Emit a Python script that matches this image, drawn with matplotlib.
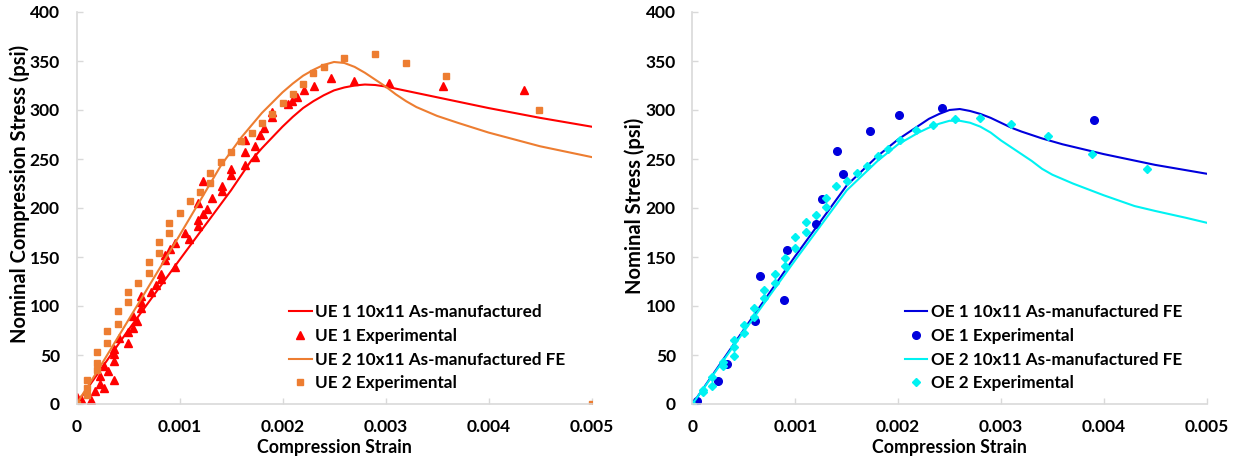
import numpy as np
import matplotlib
matplotlib.use("Agg")
import matplotlib.pyplot as plt
from matplotlib.ticker import FuncFormatter

plt.rcParams['font.family'] = ['Lato', 'DejaVu Sans']
plt.rcParams['font.weight'] = 'bold'

# ---- UE (left) ----
ue1_fe_strain = [0, 0.0002, 0.0005, 0.001, 0.0015, 0.0017, 0.0018, 0.0019, 0.002,
                 0.0021, 0.0022, 0.0023, 0.0024, 0.0025, 0.0026, 0.0027, 0.0028,
                 0.0029, 0.003, 0.0035, 0.004, 0.0045, 0.005]
ue1_fe_stress = [0, 30, 75, 147, 218, 249, 261, 272, 283, 293, 302, 309, 315, 320,
                 323, 325, 326, 325.5, 324, 313, 302, 292, 283]

ue2_fe_strain = [0, 0.0002, 0.0005, 0.001, 0.0014, 0.0016, 0.0018, 0.002, 0.0021,
                 0.0022, 0.0023, 0.0024, 0.0025, 0.0026, 0.0027, 0.0028, 0.0029,
                 0.003, 0.0031, 0.0032, 0.0033, 0.0035, 0.0037, 0.004, 0.0045, 0.005]
ue2_fe_stress = [0, 33, 85, 172, 243, 272, 297, 318, 327, 335, 341, 346, 349, 348,
                 344, 338, 331, 324, 316, 309, 303, 294, 287, 277, 263, 252]

ue1_exp_strain = [0, 0.04, 0.136, 0.18, 0.23, 0.27, 0.27, 0.31, 0.23, 0.36, 0.36, 0.36,
                  0.36, 0.41, 0.50, 0.50, 0.55, 0.55, 0.59, 0.63, 0.63, 0.63, 0.72,
                  0.77, 0.82, 0.82, 0.86, 0.86, 0.91, 0.96, 0.96, 1.05, 1.09, 1.18,
                  1.18, 1.18, 1.23, 1.23, 1.27, 1.32, 1.41, 1.41, 1.50, 1.50, 1.64,
                  1.64, 1.64, 1.73, 1.73, 1.78, 1.82, 1.90, 1.90, 2.05, 2.09, 2.14,
                  2.21, 2.31, 2.47, 2.69, 3.03, 3.56, 4.34]
ue1_exp_stress = [7.5, 5, 4, 13, 20, 16, 39, 34, 29, 24, 44, 51, 56, 67, 62, 73, 78, 90,
                  85, 98, 104, 110, 114, 121, 128, 133, 147, 152, 158, 164, 140, 174,
                  168, 182, 188, 205, 194, 228, 199, 210, 217, 222, 234, 240, 244, 257,
                  269, 252, 263, 275, 282, 293, 298, 306, 309, 313, 320, 325, 333, 330,
                  328, 325, 320]

ue2_exp_strain = [0, 0.10, 0.10, 0.10, 0.20, 0.20, 0.20, 0.30, 0.30, 0.40, 0.40, 0.50,
                  0.50, 0.60, 0.70, 0.70, 0.80, 0.80, 0.90, 0.90, 1.00, 1.10, 1.20,
                  1.30, 1.30, 1.40, 1.50, 1.60, 1.70, 1.80, 1.90, 2.00, 2.10, 2.20,
                  2.30, 2.40, 2.60, 2.90, 3.20, 3.59, 4.49, 5.0]
ue2_exp_stress = [0, 9, 16, 24, 35, 42, 53, 62, 74, 82, 95, 104, 114, 123, 134, 145, 154,
                  165, 174, 185, 195, 207, 216, 226, 236, 247, 257, 268, 277, 287, 296,
                  307, 316, 327, 338, 344, 353, 357, 348, 335, 300, 0]

# ---- OE (right) ----
oe1_fe_strain = [0, 0.0005, 0.001, 0.0015, 0.0018, 0.002, 0.0021, 0.0022, 0.0023,
                 0.0024, 0.0025, 0.0026, 0.0027, 0.0028, 0.0029, 0.003, 0.0031,
                 0.0032, 0.0034, 0.0036, 0.004, 0.0045, 0.005]
oe1_fe_stress = [0, 76, 151, 223, 253, 270, 277, 284, 291, 296, 300, 301, 299, 296,
                 292, 287, 282, 278, 271, 265, 255, 244, 235]

oe2_fe_strain = [0, 0.0005, 0.001, 0.0015, 0.0018, 0.002, 0.0021, 0.0022, 0.0023,
                 0.0024, 0.0025, 0.0026, 0.0027, 0.0028, 0.0029, 0.003, 0.0031,
                 0.0032, 0.0033, 0.0034, 0.0035, 0.0037, 0.004, 0.0043, 0.0045,
                 0.0048, 0.005]
oe2_fe_stress = [0, 74, 147, 218, 248, 265, 271, 277, 282, 286, 289, 289, 287, 283,
                 277, 269, 262, 255, 248, 240, 234, 225, 213, 202, 197, 190, 185]

oe1_exp_strain = [0, 0.04, 0.25, 0.34, 0.61, 0.66, 0.89, 0.92, 1.20, 1.26, 1.41, 1.46,
                  1.73, 2.01, 2.43, 3.91]
oe1_exp_stress = [0, 3, 23, 41, 85, 131, 106, 157, 184, 209, 258, 235, 279, 295, 302,
                  290]

oe2_exp_strain = [0, 0.10, 0.10, 0.19, 0.19, 0.30, 0.30, 0.40, 0.40, 0.40, 0.50, 0.50,
                  0.60, 0.60, 0.70, 0.70, 0.80, 0.80, 0.90, 0.90, 1.00, 1.00, 1.10,
                  1.10, 1.20, 1.30, 1.30, 1.40, 1.50, 1.60, 1.70, 1.80, 1.90, 2.02,
                  2.17, 2.34, 2.55, 2.80, 3.10, 3.46, 3.89, 4.42]
oe2_exp_stress = [0, 12, 14, 18, 28, 39, 43, 49, 58, 65, 72, 81, 89, 98, 108, 116, 123,
                  133, 141, 149, 159, 170, 176, 186, 193, 201, 210, 222, 228, 236, 243,
                  253, 260, 269, 280, 285, 291, 292, 286, 273, 255, 240]

RED = '#FF0000'
ORANGE = '#ED7D31'
BLUE = '#0000DD'
CYAN = '#00F2F2'
GRID = '#D9D9D9'


def style(ax, ylabel):
    ax.set_xlim(0, 0.005)
    ax.set_ylim(0, 400)
    ax.set_xticks([0, 0.001, 0.002, 0.003, 0.004, 0.005])
    ax.set_yticks(range(0, 401, 50))
    ax.xaxis.set_major_formatter(FuncFormatter(lambda v, p: '0' if v == 0 else f'{v:.3f}'))
    for s in ['top', 'right']:
        ax.spines[s].set_visible(False)
    for s in ['bottom', 'left']:
        ax.spines[s].set_color(GRID)
        ax.spines[s].set_linewidth(1.2)
    ax.tick_params(axis='both', direction='in', length=4, width=1, color=GRID,
                   labelsize=12.5)
    ax.tick_params(axis='x', pad=11)
    ax.tick_params(axis='y', pad=12)
    for lab in ax.get_xticklabels() + ax.get_yticklabels():
        lab.set_fontweight('bold')
    ax.set_xlabel('Compression Strain', fontsize=12.8, fontweight='bold')
    ax.xaxis.set_label_coords(0.5, -0.11)
    ax.xaxis.label.set_va('center')
    ax.set_ylabel(ylabel, fontsize=14.5, fontweight='bold')
    ax.yaxis.label.set_va('center')


fig = plt.figure(figsize=(12.39, 4.58), dpi=100)
ax1 = fig.add_axes([76.5 / 1239, 54 / 458, 515 / 1239, 392 / 458])
ax2 = fig.add_axes([692.5 / 1239, 54 / 458, 514 / 1239, 392 / 458])

ax1.plot(ue1_fe_strain, ue1_fe_stress, color=RED, lw=1.5, label='UE 1 10x11 As-manufactured')
ax1.plot(np.array(ue1_exp_strain) / 1000, ue1_exp_stress, ls='none', marker='^', ms=5.5,
         color=RED, label='UE 1 Experimental')
ax1.plot(ue2_fe_strain, ue2_fe_stress, color=ORANGE, lw=1.5,
         label='UE 2 10x11 As-manufactured FE')
ax1.plot(np.array(ue2_exp_strain) / 1000, ue2_exp_stress, ls='none', marker='s', ms=5,
         color=ORANGE, label='UE 2 Experimental')
style(ax1, 'Nominal Compression Stress (psi)')
ax1.yaxis.set_label_coords(-0.110, 0.535)

ax2.plot(oe1_fe_strain, oe1_fe_stress, color=BLUE, lw=1.5, label='OE 1 10x11 As-manufactured FE')
ax2.plot(np.array(oe1_exp_strain) / 1000, oe1_exp_stress, ls='none', marker='o', ms=5.5,
         color=BLUE, label='OE 1 Experimental')
ax2.plot(oe2_fe_strain, oe2_fe_stress, color=CYAN, lw=1.5, label='OE 2 10x11 As-manufactured FE')
ax2.plot(np.array(oe2_exp_strain) / 1000, oe2_exp_stress, ls='none', marker='D', ms=4,
         color=CYAN, label='OE 2 Experimental')
style(ax2, 'Nominal Stress (psi)')
ax2.yaxis.set_label_coords(-0.112, 0.505)

for ax in (ax1, ax2):
    ax.legend(loc='lower left', bbox_to_anchor=(0.40, 0.015), frameon=False,
              prop={'weight': 'bold', 'size': 12.3}, handlelength=1.3, handletextpad=0.2,
              labelspacing=0.45, numpoints=1, borderaxespad=0)

fig.savefig('out.png', dpi=100)
